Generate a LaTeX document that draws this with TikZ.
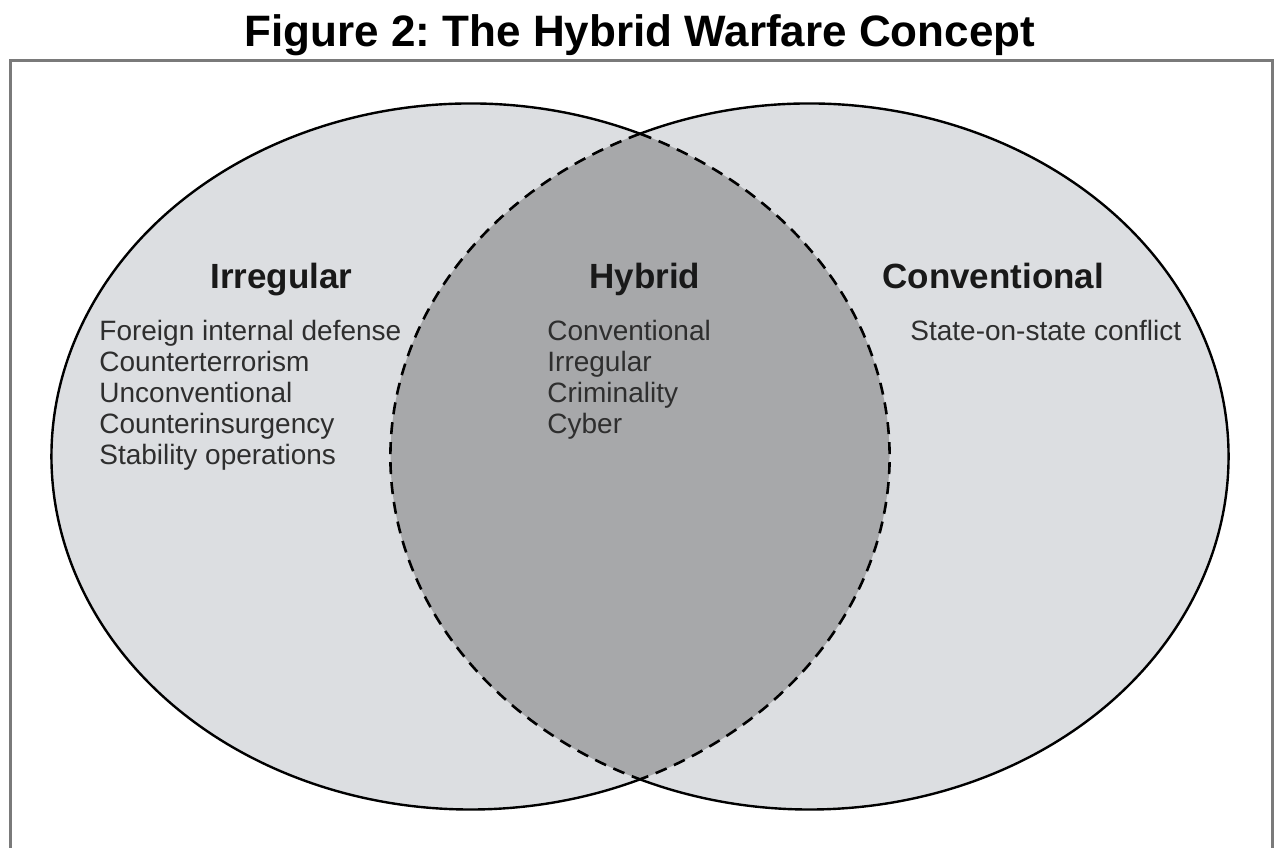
\documentclass[tikz,border=0pt]{standalone}
\usepackage{fontspec}
\setmainfont{Liberation Sans}
\frenchspacing
\usetikzlibrary{positioning}

\definecolor{setgray}{HTML}{DCDEE1}
\definecolor{lensgray}{HTML}{A7A8AA}
\definecolor{framegray}{HTML}{7A7A7A}
\definecolor{textgray}{HTML}{2E2E2E}

\tikzset{
  setfill/.style={fill=setgray},
  lensfill/.style={fill=lensgray},
  outline/.style={draw=black,line width=1.2pt},
  lensline/.style={draw=black,line width=1.3pt,dash pattern=on 6pt off 4pt},
  heading/.style={inner sep=0pt,font=\bfseries\fontsize{17.5}{20}\selectfont,text=black!90},
  items/.style={inner sep=0pt,align=left,font=\fontsize{14}{15.5}\selectfont,text=textgray}
}

\begin{document}
\begin{tikzpicture}[x=0.5pt,y=-0.5pt]
            \useasboundingbox (0,0) rectangle (1280,847);
            \fill[white] (0,0) rectangle (1280,847);

            \node [inner sep=0pt,font=\bfseries\fontsize{22}{26}\selectfont,anchor=base] (title) at (640,46) {Figure 2: The Hybrid Warfare Concept};
            \draw [framegray,line width=1.5pt] (10,860) -- (10,60) -- (1272,60) -- (1272,860);

            \coordinate (lc) at (470.5,456.5);
            \coordinate (rc) at (809.5,456.5);
            \coordinate (top) at (640,133.7);
            \coordinate (bot) at (640,779.3);

            \fill[setfill] (lc) ellipse [x radius=419,y radius=353];
            \fill[setfill] (rc) ellipse [x radius=419,y radius=353];
            \begin{scope}
              \clip (lc) ellipse [x radius=419,y radius=353];
              \fill[lensfill] (rc) ellipse [x radius=419,y radius=353];
            \end{scope}

            \path[outline]
            (top) arc [start angle=-66.14,end angle=-293.86,x radius=419,y radius=353]
            (top) arc [start angle=-113.86,end angle=113.86,x radius=419,y radius=353]
            ;
            \path[lensline]
            (top) arc [start angle=-66.14,end angle=66.14,x radius=419,y radius=353]
            (top) arc [start angle=-113.86,end angle=-246.14,x radius=419,y radius=353]
            ;

            \node [heading,anchor=base west] (irregular) at (210,288) {Irregular};
            \node [heading,anchor=base west] (hybrid) at (589,288) {Hybrid};
            \node [heading,anchor=base west] (conventional) at (882,288) {Conventional};

            \node [items,anchor=north west] (irrlist) at (99,320) {Foreign internal defense\\Counterterrorism\\Unconventional\\Counterinsurgency\\Stability operations};
            \node [items,anchor=north west] (hyblist) at (547,320) {Conventional\\Irregular\\Criminality\\Cyber};
            \node [items,anchor=north west] (convlist) at (910,320) {State-on-state conflict};
        \end{tikzpicture}
\end{document}
